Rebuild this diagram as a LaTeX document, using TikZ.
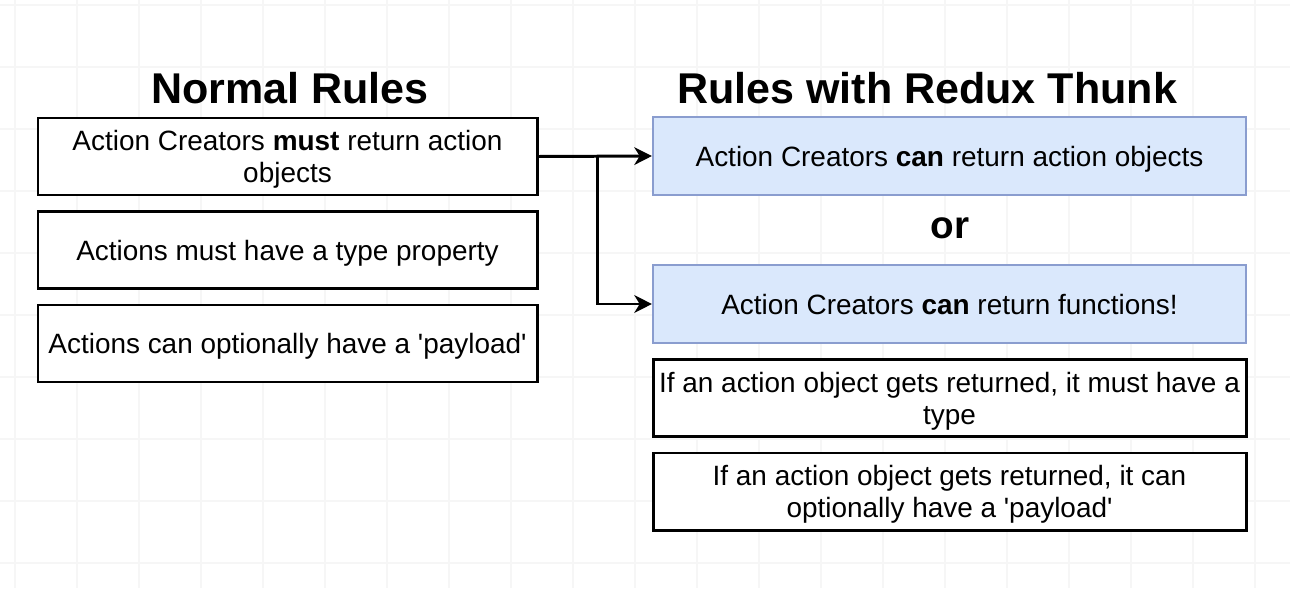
\documentclass[tikz,border=0pt]{standalone}
\usepackage{fontspec}
\setmainfont{Liberation Sans}
\usetikzlibrary{arrows.meta}
\definecolor{bfill}{HTML}{DAE8FC}
\definecolor{bline}{HTML}{8A9DCF}
\definecolor{gridc}{HTML}{F6F6F6}
\tikzset{
  px/.style={x=0.02cm,y=-0.02cm},
  rulebox/.style={draw=black,line width=1.7pt,fill=white,minimum width=499*0.02cm,minimum height=77*0.02cm,align=center,font=\fontsize{15.9pt}{18.2pt}\selectfont,inner sep=0pt,text depth=0pt},
  bluebox/.style={rulebox,draw=bline,fill=bfill,line width=1.2pt,minimum width=593*0.02cm,minimum height=78*0.02cm},
  wbox/.style={rulebox,minimum width=593*0.02cm},
  title/.style={font=\fontsize{24.5pt}{28pt}\selectfont\bfseries},
  conn/.style={line width=1.7pt,-{Stealth[length=10pt,width=10pt,inset=3pt]}},
}
\begin{document}
\begin{tikzpicture}[px]
\useasboundingbox (0,0) rectangle (1290,588);
\fill[white] (0,0) rectangle (1290,588);
\foreach \x in {15,77,...,1290} \draw[gridc,line width=0.6pt] (\x,0) -- (\x,588);
\foreach \y in {5,67,...,588} \draw[gridc,line width=0.6pt] (0,\y) -- (1290,\y);
\node[title] (t1) at (290,88) {Normal Rules};
\node[title] (t2) at (927,88) {Rules with Redux Thunk};
\node[rulebox] (l1) at (287.5,156.5) {Action Creators \textbf{must} return action\\objects};
\node[rulebox] (l2) at (287.5,250) {Actions must have a type property};
\node[rulebox] (l3) at (287.5,343.5) {Actions can optionally have a \textquotesingle payload\textquotesingle};
\node[bluebox] (r1) at (949.5,156) {Action Creators \textbf{can} return action objects};
\node[title,font=\fontsize{22pt}{25pt}\selectfont\bfseries] (or) at (950,228) {or};
\node[bluebox] (r2) at (949.5,304) {Action Creators \textbf{can} return functions!};
\node[wbox] (r3) at (949.5,398) {If an action object gets returned, it must have a\\type};
\node[wbox] (r4) at (949.5,491.5) {If an action object gets returned, it can\\optionally have a \textquotesingle payload\textquotesingle};
\coordinate (j) at (597,156.5);
\draw[conn] (l1.east) -- (r1.west);
\draw[conn] (j) |- (r2.west);
\end{tikzpicture}
\end{document}
